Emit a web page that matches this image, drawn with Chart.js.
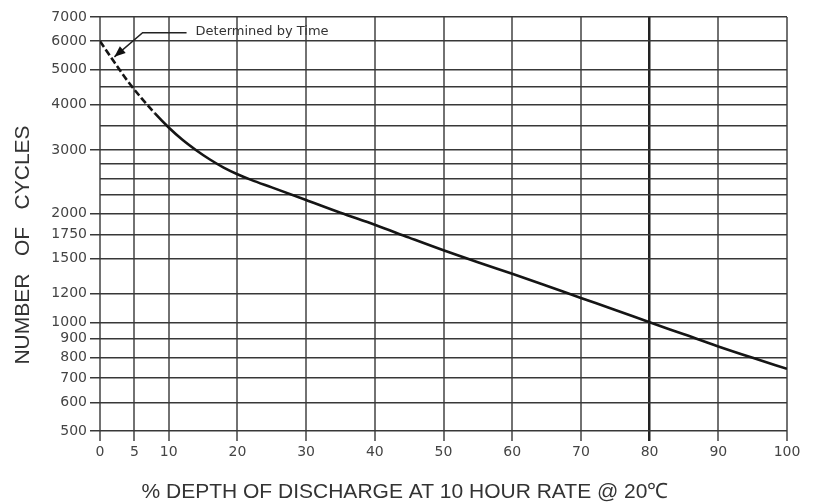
<!DOCTYPE html>
<html>
<head>
<meta charset="utf-8">
<script src="https://cdn.jsdelivr.net/npm/chart.js@4.4.0/dist/chart.umd.min.js"></script>
<style>
html, body { margin: 0; padding: 0; background: #fff; }
#wrap { width: 816px; height: 504px; }
</style>
</head>
<body>
<div id="wrap"><canvas id="cycleChart"></canvas></div>
<script>
// % depth of discharge vs number of cycles
var depth  = [0, 2, 4, 6, 8, 10, 12, 14, 16, 18, 20, 22, 25, 30, 35, 40, 45, 50, 55, 60, 65, 70, 75, 80, 85, 90, 95, 100];
var cycles = [6000, 5276, 4659, 4181, 3786, 3461, 3200, 2994, 2822, 2681, 2570, 2479, 2363, 2180, 2010, 1862, 1715, 1582, 1466, 1362, 1262, 1168, 1082, 1000, 926, 857, 797, 743];
var dashedUntil = 8;   // part of the curve "determined by time"

var xTicks = [0, 5, 10, 20, 30, 40, 50, 60, 70, 80, 90, 100];
var yTicks = [500, 600, 700, 800, 900, 1000, 1200, 1500, 1750, 2000, 2250, 2500, 2750, 3000, 3500, 4000, 4500, 5000, 6000, 7000];
var yLabels = [500, 600, 700, 800, 900, 1000, 1200, 1500, 1750, 2000, 3000, 4000, 5000, 6000, 7000];

var xTitle = '% DEPTH OF DISCHARGE AT 10 HOUR RATE @ 20\u2103';
var yTitle = 'NUMBER   OF   CYCLES';
var noteText = 'Determined by Time';
// note leader: arrow tip, elbow, end of horizontal line (in data units)
var noteTip = [2.1, 5430];
var noteElbow = [6.2, 6330];
var noteEnd = [12.6, 6330];

var tickFont = { family: 'DejaVu Sans', size: 14 };

var extraText = {
    id: 'extraText',
    afterDraw: function (chart) {
        var ctx = chart.ctx;
        var xs = chart.scales.x, ys = chart.scales.y;
        ctx.save();
        ctx.fillStyle = '#333';
        ctx.font = '21px "Liberation Sans"';
        ctx.textAlign = 'center';
        ctx.textBaseline = 'middle';
        ctx.fillText(xTitle, 405, 492);

        ctx.save();
        ctx.translate(23, 245);
        ctx.rotate(-Math.PI / 2);
        ctx.fillText(yTitle, 0, 0);
        ctx.restore();

        // leader line + arrow
        var tx = xs.getPixelForValue(noteTip[0]), ty = ys.getPixelForValue(noteTip[1]);
        var ex = xs.getPixelForValue(noteElbow[0]), ey = ys.getPixelForValue(noteElbow[1]);
        var nx = xs.getPixelForValue(noteEnd[0]);
        ctx.strokeStyle = '#222';
        ctx.lineWidth = 1.5;
        ctx.beginPath();
        ctx.moveTo(nx, ey);
        ctx.lineTo(ex, ey);
        ctx.lineTo(tx, ty);
        ctx.stroke();
        var ang = Math.atan2(ty - ey, tx - ex);
        ctx.fillStyle = '#111';
        ctx.beginPath();
        ctx.moveTo(tx, ty);
        ctx.lineTo(tx - 11 * Math.cos(ang) + 4.5 * Math.sin(ang), ty - 11 * Math.sin(ang) - 4.5 * Math.cos(ang));
        ctx.lineTo(tx - 11 * Math.cos(ang) - 4.5 * Math.sin(ang), ty - 11 * Math.sin(ang) + 4.5 * Math.cos(ang));
        ctx.closePath();
        ctx.fill();

        ctx.fillStyle = '#333';
        ctx.font = '13px "DejaVu Sans"';
        ctx.textAlign = 'left';
        ctx.fillText(noteText, nx + 9, ey - 1.5);
        ctx.restore();
    }
};

var ctx = document.getElementById('cycleChart');
var cycleChart = new Chart(ctx, {
    type: 'line',
    data: {
        datasets: [{
            label: 'Cycles',
            data: depth.map(function (d, i) { return { x: d, y: cycles[i] }; }),
            borderColor: '#151515',
            borderWidth: 2.6,
            pointRadius: 0,
            fill: false,
            cubicInterpolationMode: 'monotone',
            segment: {
                borderDash: function (c) { return c.p1.parsed.x <= dashedUntil ? [7, 3] : undefined; }
            }
        }]
    },
    options: {
        responsive: true,
        maintainAspectRatio: false,
        devicePixelRatio: 1,
        animation: false,
        layout: { padding: { top: 17, right: 29, bottom: 0, left: 0 } },
        plugins: {
            legend: { display: false },
            tooltip: { enabled: false }
        },
        scales: {
            x: {
                type: 'linear',
                min: 0,
                max: 100,
                afterBuildTicks: function (s) { s.ticks = xTicks.map(function (v) { return { value: v }; }); },
                afterFit: function (s) { s.height = 73; },
                border: { display: false },
                grid: {
                    color: function (c) { return c.tick && c.tick.value === 80 ? '#222' : '#727272'; },
                    lineWidth: function (c) { return c.tick && c.tick.value === 80 ? 2.5 : 2; },
                    tickLength: 10
                },
                ticks: { font: tickFont, color: '#444', padding: 3, autoSkip: false, maxRotation: 0 }
            },
            y: {
                type: 'logarithmic',
                min: 500,
                max: 7000,
                afterBuildTicks: function (s) { s.ticks = yTicks.map(function (v) { return { value: v }; }); },
                afterFit: function (s) { s.width = 100; },
                border: { display: false },
                grid: {
                    color: '#383838',
                    lineWidth: 1.5,
                    tickLength: 10,
                    tickColor: function (c) { return c.tick && yLabels.indexOf(c.tick.value) >= 0 ? '#383838' : 'rgba(0,0,0,0)'; }
                },
                ticks: {
                    font: tickFont,
                    color: '#444',
                    padding: 3,
                    autoSkip: false,
                    callback: function (v) { return yLabels.indexOf(v) >= 0 ? String(v) : ''; }
                }
            }
        }
    },
    plugins: [extraText]
});
</script>
</body>
</html>
